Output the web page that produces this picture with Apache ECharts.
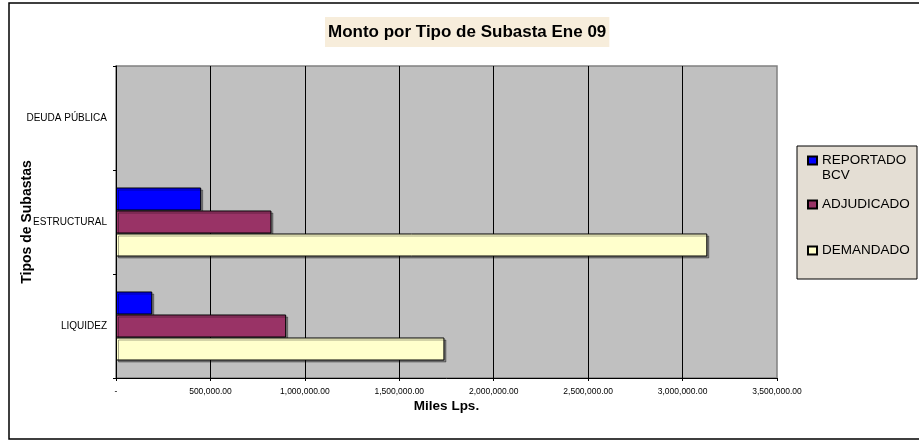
<!DOCTYPE html>
<html lang="es">
<head>
    <meta charset="UTF-8">
    <title>Monto por Tipo de Subasta Ene 09</title>
    <script src="https://cdn.jsdelivr.net/npm/echarts@6/dist/echarts.min.js"></script>
    <style>
        html, body { margin: 0; padding: 0; background: #fff; }
    </style>
</head>
<body>
    <div id="main" style="width: 919px; height: 441px;"></div>
</body>
</html>

<script>
    // categorias (de abajo hacia arriba) y montos en miles de Lps.
    var categorias = ['LIQUIDEZ', 'ESTRUCTURAL', 'DEUDA PÚBLICA'];
    var reportadoBCV = [192000, 451000, '-'];
    var adjudicado = [901000, 823000, '-'];
    var demandado = [1739000, 3131000, '-'];
    var ticksX = [0, 3500000, 500000]; // min, max, intervalo

    var chart = echarts.init(document.getElementById('main'));
    var fuente = 'Liberation Sans, Arial, sans-serif';

    function formatoMiles(v) {
        if (v === 0) return '-';
        return v.toLocaleString('en-US', { minimumFractionDigits: 2, maximumFractionDigits: 2 });
    }

    var borde = {
        borderColor: '#000',
        borderWidth: 1,
        shadowColor: 'rgba(0,0,0,0.35)',
        shadowOffsetX: 2,
        shadowOffsetY: 2,
        shadowBlur: 0
    };

    var textoLeyenda = { color: '#000', fontFamily: fuente, fontSize: 13.5, lineHeight: 15 };

    var option = {
        animation: false,
        backgroundColor: '#fff',
        textStyle: { fontFamily: fuente },
        graphic: [
            {
                // marco exterior
                type: 'rect',
                shape: { x: 9, y: 3, width: 920, height: 436 },
                style: { fill: 'none', stroke: '#000', lineWidth: 1.5 },
                z: -1
            },
            {
                // caja de la leyenda
                type: 'rect',
                shape: { x: 797, y: 146, width: 120, height: 133 },
                style: { fill: '#e4ded4', stroke: '#000', lineWidth: 1 },
                z: 0
            }
        ],
        title: {
            text: 'Monto por Tipo de Subasta Ene 09',
            left: 325,
            top: 17,
            padding: [6.5, 3, 6.5, 3],
            backgroundColor: '#f7eddb',
            textStyle: { fontSize: 17, fontWeight: 'bold', color: '#000', fontFamily: fuente, lineHeight: 17 }
        },
        legend: [
            {
                data: ['REPORTADO BCV'],
                left: 807, top: 138, padding: 0,
                itemWidth: 9, itemHeight: 8, icon: 'rect',
                // linea vacia arriba para que el cuadro quede junto a REPORTADO
                formatter: function (n) { return '\n' + n.replace(' ', '\n'); },
                textStyle: textoLeyenda,
                z: 5
            },
            {
                data: ['ADJUDICADO'],
                left: 807, top: 197, padding: 0,
                itemWidth: 9, itemHeight: 8, icon: 'rect',
                textStyle: textoLeyenda,
                z: 5
            },
            {
                data: ['DEMANDADO'],
                left: 807, top: 243, padding: 0,
                itemWidth: 9, itemHeight: 8, icon: 'rect',
                textStyle: textoLeyenda,
                z: 5
            }
        ],
        grid: {
            left: 116,
            right: 142,
            top: 66,
            bottom: 63,
            outerBoundsMode: 'none',
            show: true,
            backgroundColor: '#c0c0c0',
            borderColor: '#808080',
            borderWidth: 1.5
        },
        xAxis: {
            type: 'value',
            min: ticksX[0],
            max: ticksX[1],
            interval: ticksX[2],
            name: 'Miles Lps.',
            nameLocation: 'middle',
            nameGap: 21,
            nameMoveOverlap: false,
            nameTextStyle: { fontSize: 13.5, fontWeight: 'bold', color: '#000', fontFamily: fuente },
            axisLine: { show: true, lineStyle: { color: '#000', width: 1 } },
            axisTick: { show: true, length: 3, lineStyle: { color: '#000' } },
            axisLabel: { fontSize: 8.5, color: '#000', margin: 9, formatter: formatoMiles, fontFamily: fuente },
            splitLine: { show: true, showMaxLine: false, lineStyle: { color: '#000', width: 1 } }
        },
        yAxis: {
            type: 'category',
            data: categorias,
            name: 'Tipos de Subastas',
            nameLocation: 'middle',
            nameGap: 82,
            nameRotate: 90,
            nameMoveOverlap: false,
            nameTextStyle: { fontSize: 14, fontWeight: 'bold', color: '#000', fontFamily: fuente },
            axisLine: { show: true, lineStyle: { color: '#000', width: 1 } },
            axisTick: { show: true, length: 3, lineStyle: { color: '#000' } },
            axisLabel: { fontSize: 10, color: '#000', margin: 9, fontFamily: fuente },
            splitLine: { show: false }
        },
        series: [
            {
                name: 'REPORTADO BCV',
                type: 'bar',
                data: reportadoBCV,
                barWidth: 23,
                barGap: '0%',
                itemStyle: Object.assign({ color: '#0000ff' }, borde)
            },
            {
                name: 'ADJUDICADO',
                type: 'bar',
                data: adjudicado,
                barWidth: 23,
                barGap: '0%',
                itemStyle: Object.assign({ color: '#993366' }, borde)
            },
            {
                name: 'DEMANDADO',
                type: 'bar',
                data: demandado,
                barWidth: 23,
                barGap: '0%',
                itemStyle: Object.assign({ color: '#ffffcc' }, borde)
            }
        ]
    };

    chart.setOption(option);
</script>
